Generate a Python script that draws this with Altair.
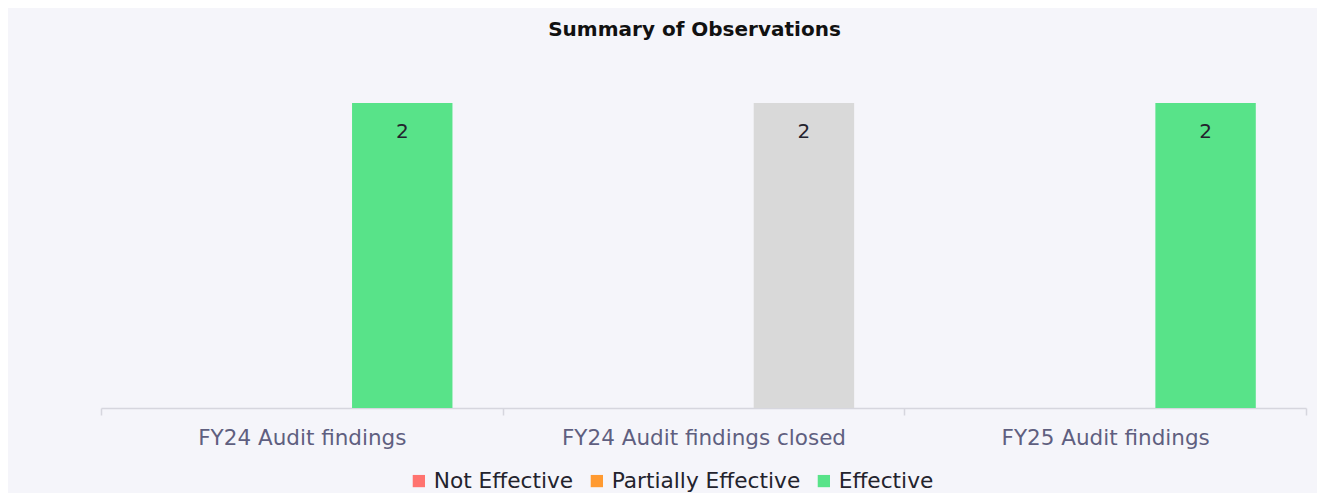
import altair as alt
import pandas as pd

categories = ["FY24 Audit findings", "FY24 Audit findings closed", "FY25 Audit findings"]
series = ["Not Effective", "Partially Effective", "Effective"]
not_effective = [0, 0, 0]
partially_effective = [0, 0, 0]
effective = [2, 2, 2]

series_colors = ["#ff736f", "#ff9a31", "#58e389"]
closed_color = "#d9d9d9"
FONT = "DejaVu Sans"

rows = []
for s, vals in zip(series, [not_effective, partially_effective, effective]):
    for c, v in zip(categories, vals):
        rows.append({"category": c, "series": s, "value": v})
df = pd.DataFrame(rows)

x_enc = alt.X(
    "category:N",
    sort=categories,
    scale=alt.Scale(paddingInner=0, paddingOuter=0),
    axis=alt.Axis(
        title=None,
        labelAngle=0,
        labelLimit=0,
        tickBand="extent",
        domainColor="#d6d6de",
        domainWidth=1.5,
        tickColor="#d6d6de",
        tickWidth=1.5,
        tickSize=7,
        labelFont=FONT,
        labelFontSize=21.5,
        labelColor="#5f5f80",
        labelPadding=12,
        grid=False,
    ),
)
xoff_enc = alt.XOffset("series:N", sort=series, scale=alt.Scale(domain=series, paddingInner=0, paddingOuter=0.5))
y_enc = alt.Y("value:Q", scale=alt.Scale(domain=[0, 2], nice=False), axis=None)

bars = alt.Chart(df).mark_bar().encode(
    x=x_enc,
    xOffset=xoff_enc,
    y=y_enc,
    color=alt.condition(
        "datum.category == 'FY24 Audit findings closed'",
        alt.value(closed_color),
        alt.Color(
            "series:N",
            sort=series,
            scale=alt.Scale(domain=series, range=series_colors),
            legend=alt.Legend(
                title=None,
                orient="none",
                direction="horizontal",
                legendX=307,
                legendY=367,
                symbolType="square",
                symbolSize=150,
                symbolStrokeWidth=0,
                labelFont=FONT,
                labelFontSize=21.7,
                labelLimit=0,
                labelColor="#23232d",
                labelOffset=4,
                columnPadding=12,
            ),
        ),
    ),
)

labels = alt.Chart(df).transform_filter("datum.value > 0").mark_text(
    baseline="middle", align="center", dy=29, font=FONT, fontSize=20, color="#23232d"
).encode(
    x=alt.X("category:N", sort=categories),
    xOffset=alt.XOffset("series:N", sort=series),
    y=alt.Y("value:Q"),
    text=alt.Text("value:Q"),
)

chart = (
    alt.layer(bars, labels)
    .properties(
        width=1205,
        height=305,
        title=alt.TitleParams(
            "Summary of Observations",
            font=FONT,
            fontSize=20,
            fontWeight="bold",
            color="#111111",
            anchor="middle",
            frame="group",
            baseline="bottom",
            offset=43,
            dx=-9,
        ),
        autosize=alt.AutoSizeParams(type="none"),
        padding={"left": 93, "top": 95, "right": 11, "bottom": 85},
        background="#f5f5fa",
    )
    .configure_view(stroke=None)
)

chart.save("out.html", embed_options={"renderer": "svg", "actions": False})
